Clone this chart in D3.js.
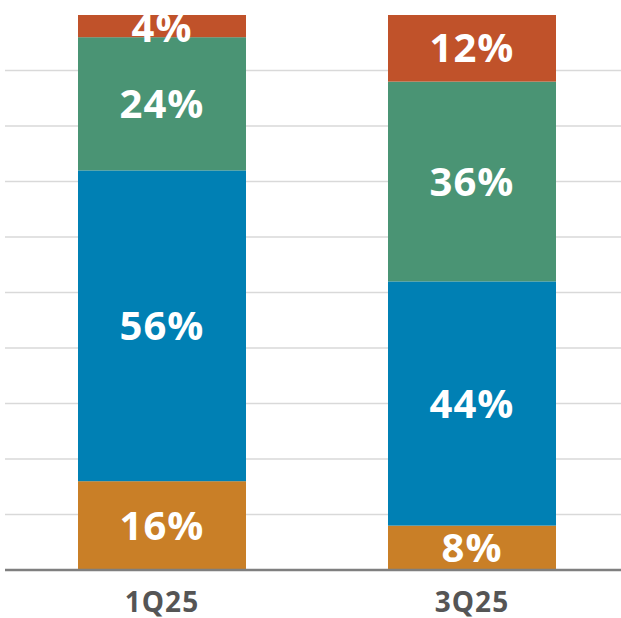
<!DOCTYPE html>
<html><head><meta charset="utf-8">
<script src="https://cdn.jsdelivr.net/npm/d3@7"></script>
<style>body{margin:0;background:#fff}</style>
</head><body><div id="chart"></div>
<script>
const categories = ["1Q25", "3Q25"];
const segments = ["bottom", "mid", "upper", "top"];
const colors = ["#c97f27", "#0080b4", "#4a9474", "#c0522a"];
const values = [
  [16, 56, 24, 4],
  [8, 44, 36, 12]
];
const gridTicks = [10, 20, 30, 40, 50, 60, 70, 80, 90];

const main = function() {
  const svg = d3.select("#chart").append("svg")
    .attr("width", 621).attr("height", 618);

  const x = d3.scalePoint().domain(categories).range([162, 472]);
  const y = d3.scaleLinear().domain([0, 100]).range([570, 15]);

  svg.selectAll(".grid").data(gridTicks).enter().append("line")
    .attr("x1", 5).attr("x2", 621)
    .attr("y1", d => y(d)).attr("y2", d => y(d))
    .attr("stroke", "#d9d9d9").attr("stroke-width", 1.5);

  const rows = [];
  values.forEach((vals, i) => {
    let acc = 0;
    vals.forEach((v, j) => {
      rows.push({cat: categories[i], v: v, y0: acc, y1: acc + v, c: colors[j]});
      acc += v;
    });
  });

  const bw = 168;
  svg.selectAll(".bar").data(rows).enter().append("rect")
    .attr("x", d => x(d.cat) - bw / 2)
    .attr("width", bw)
    .attr("y", d => y(d.y1))
    .attr("height", d => y(d.y0) - y(d.y1))
    .attr("fill", d => d.c);

  svg.selectAll(".lbl").data(rows).enter().append("text")
    .attr("x", d => x(d.cat))
    .attr("y", d => Math.max((y(d.y0) + y(d.y1)) / 2 + 14, 42))
    .attr("text-anchor", "middle")
    .attr("fill", "#fff")
    .style("font", "bold 40px 'Open Sans', sans-serif")
    .style("letter-spacing", "1px")
    .text(d => d.v + "%");

  svg.append("line").attr("x1", 5).attr("x2", 621).attr("y1", 570).attr("y2", 570)
    .attr("stroke", "#7f7f7f").attr("stroke-width", 2.5);

  svg.selectAll(".cat").data(categories).enter().append("text")
    .attr("x", d => x(d))
    .attr("y", 612)
    .attr("text-anchor", "middle")
    .attr("fill", "#555")
    .style("font", "bold 28px 'Open Sans', sans-serif")
    .style("letter-spacing", "1px")
    .text(d => d);
};
window.onload = main;
</script></body></html>
